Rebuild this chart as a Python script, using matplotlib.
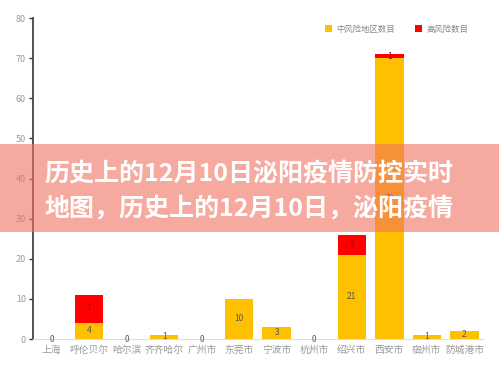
import matplotlib.pyplot as plt
from matplotlib.patches import Rectangle

plt.rcParams['font.family'] = ['Noto Sans CJK SC', 'DejaVu Sans']
plt.rcParams['axes.unicode_minus'] = False

# 데이터
cities = ['上海', '呼伦贝尔', '哈尔滨', '齐齐哈尔', '广州市', '东莞市',
          '宁波市', '杭州市', '绍兴市', '西安市', '宿州市', '防城港市']
mid_risk = [0, 4, 0, 1, 0, 10, 3, 0, 21, 70, 1, 2]
high_risk = [0, 7, 0, 0, 0, 0, 0, 0, 5, 1, 0, 0]
yticks = [0, 10, 20, 30, 40, 50, 60, 70, 80]
title_text = '历史上的12月10日泌阳疫情防控实时\n地图，历史上的12月10日，泌阳疫情'

fig = plt.figure(figsize=(4.99, 3.76), dpi=100)
ax = fig.add_axes([0.066, 0.0984, 0.902, 0.8536])

x = range(len(cities))
b1 = ax.bar(x, mid_risk, 0.76, color='#FFC000', label='中风险地区数目')
b2 = ax.bar(x, high_risk, 0.76, bottom=mid_risk, color='#FF0000', label='高风险数目')

ax.bar_label(b1, labels=[str(v) for v in mid_risk], label_type='center',
             fontsize=6, color='#555555')
ax.bar_label(b2, labels=['' if v == 0 else str(v) for v in high_risk],
             label_type='center', fontsize=6, color='#b00000')

ax.set_xlim(-0.5, len(cities) - 0.5)
ax.set_ylim(0, 80)
ax.set_yticks(yticks)
ax.set_xticks(list(x))
ax.set_xticklabels(cities)
ax.tick_params(axis='y', labelsize=6.5, colors='#333333', labelcolor='#999999',
               length=3, width=1, pad=2)
ax.tick_params(axis='x', labelsize=7, labelcolor='#999999', length=0, pad=4)

for s in ['top', 'right']:
    ax.spines[s].set_visible(False)
ax.spines['left'].set_color('#444444')
ax.spines['left'].set_linewidth(1.3)
ax.spines['bottom'].set_color('#dddddd')

fig.legend(loc='center', bbox_to_anchor=(0.795, 0.923), ncol=2, frameon=False,
           fontsize=6, labelcolor='#888888', handlelength=0.8, handleheight=0.8,
           handletextpad=0.5, columnspacing=2.5)

# 반투명 띠 + 제목
fig.patches.append(Rectangle((0, 0.383), 1, 0.234, transform=fig.transFigure,
                             facecolor='#f07060', alpha=0.6, edgecolor='none',
                             zorder=5))
fig.text(0.09, 0.49, title_text, fontsize=18, fontweight='bold', color='white',
         va='center', ha='left', linespacing=1.55, zorder=6)

fig.savefig('out.png', dpi=100)
